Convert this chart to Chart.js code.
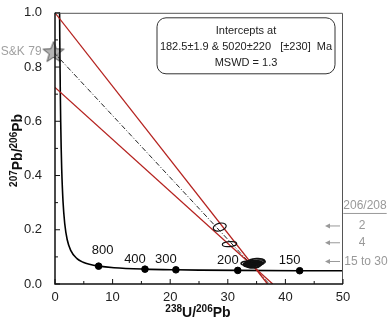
<!DOCTYPE html>
<html>
<head>
<meta charset="utf-8">
<script src="https://cdn.jsdelivr.net/npm/chart.js@4.4.0/dist/chart.umd.min.js"></script>
<style>
  html, body { margin: 0; padding: 0; background: #fff; }
  #wrap { width: 388px; height: 323px; }
</style>
</head>
<body>
<div id="wrap"><canvas id="twChart" width="388" height="323"></canvas></div>
<script>
// 콘코디아 곡선 (Tera-Wasserburg) - 그림에서 읽은 값
const concX = [0.795, 0.806, 0.829, 0.853, 0.918, 0.990, 1.071, 1.163, 1.387, 1.687, 2.111, 2.749, 3.817, 4.888, 5.960, 7.568, 10.25, 15.62, 20.99, 25.29, 31.73, 42.48, 50.3];
const concY = [1.009, 0.974, 0.907, 0.845, 0.710, 0.597, 0.503, 0.425, 0.306, 0.223, 0.164, 0.123, 0.0936, 0.0801, 0.0725, 0.0658, 0.0599, 0.0547, 0.0523, 0.0512, 0.0501, 0.0490, 0.0486];

// 콘코디아 위 연령 표시 (Ma)
const ageLabels = ["800", "400", "300", "200", "150"];
const ageX = [7.57, 15.62, 20.99, 31.73, 42.48];
const ageY = [0.0658, 0.0547, 0.0523, 0.0501, 0.0490];

// 디스코디아 선과 오차 범위 (양 끝점)
const discX = [-0.25, 37.2];
const discY = [0.855, 0];
const envUpX = [0, 36.9];
const envUpY = [1.0, 0];
const envLoX = [0, 37.8];
const envLoY = [0.725, 0];

// 보통납 (S&K 79)
const skLabel = "S&K 79";
const skX = [-0.25];
const skY = [0.855];

// 분석점 타원 (중심, 반축)
const ellX  = [28.6, 30.3];
const ellY  = [0.210, 0.147];
const ellRx = [1.15, 1.25];
const ellRy = [0.014, 0.009];
const ellRot = [-15, -5];
// 15 to 30 그룹 (겹친 타원)
const clX  = [33.2, 33.7, 34.2, 34.6, 35.1, 34.0, 34.5, 33.8, 35.3, 35.0];
const clY  = [0.077, 0.073, 0.079, 0.072, 0.076, 0.068, 0.066, 0.071, 0.080, 0.084];
const clRx = [0.9, 1.0, 1.1, 1.3, 1.1, 0.9, 1.1, 0.9, 1.2, 1.4];
const clRy = [0.007, 0.008, 0.008, 0.010, 0.007, 0.006, 0.007, 0.006, 0.008, 0.010];

// 오른쪽 206/208 표시
const ratioTitle = "206/208";
const ratioLabels = ["2", "4", "15 to 30"];
const ratioY = [0.214, 0.152, 0.083];

// 절편 박스
const boxLines = ["Intercepts at", "182.5\u00b11.9 & 5020\u00b1220   [\u00b1230]  Ma", "MSWD = 1.3"];

// 축 눈금
const xMajor = [0, 10, 20, 30, 40, 50];
const xMinor = [5, 15, 25, 35, 45];
const yMajor = [0, 0.2, 0.4, 0.6, 0.8, 1.0];
const yMinor = [0.1, 0.3, 0.5, 0.7, 0.9];

const FONT = "'Liberation Sans', Arial, sans-serif";
const toPts = (xs, ys) => xs.map((x, i) => ({ x: x, y: ys[i] }));

// 별 모양 포인트
function makeStar() {
  const c = document.createElement("canvas");
  c.width = 26; c.height = 26;
  const g = c.getContext("2d");
  g.beginPath();
  for (let i = 0; i < 10; i++) {
    const r = i % 2 === 0 ? 11 : 4.6;
    const a = -Math.PI / 2 + i * Math.PI / 5;
    const px = 13 + r * Math.cos(a), py = 13.5 + r * Math.sin(a);
    if (i === 0) g.moveTo(px, py); else g.lineTo(px, py);
  }
  g.closePath();
  g.fillStyle = "#b4b4b4";
  g.fill();
  g.strokeStyle = "#555";
  g.lineWidth = 1;
  g.stroke();
  return c;
}

// 위첨자 텍스트 그리기
function richText(ctx, parts, x, y) {
  let w = 0;
  parts.forEach(p => {
    ctx.font = p.sup ? "bold 10px " + FONT : "bold 14px " + FONT;
    p.w = ctx.measureText(p.t).width;
    w += p.w;
  });
  let cx = x - w / 2;
  ctx.textAlign = "left";
  ctx.textBaseline = "alphabetic";
  parts.forEach(p => {
    ctx.font = p.sup ? "bold 10px " + FONT : "bold 14px " + FONT;
    ctx.fillText(p.t, cx, p.sup ? y - 5 : y);
    cx += p.w;
  });
}

const decorPlugin = {
  id: "decor",
  afterDatasetsDraw(chart) {
    const ctx = chart.ctx;
    const xs = chart.scales.x, ys = chart.scales.y;
    const ca = chart.chartArea;

    function ellipse(x, y, rx, ry, rot, lw, fill) {
      const cx = xs.getPixelForValue(x), cy = ys.getPixelForValue(y);
      const rxp = Math.abs(xs.getPixelForValue(x + rx) - cx);
      const ryp = Math.abs(ys.getPixelForValue(y + ry) - cy);
      ctx.beginPath();
      ctx.ellipse(cx, cy, rxp, ryp, rot * Math.PI / 180, 0, Math.PI * 2);
      if (fill) { ctx.fillStyle = "#111"; ctx.fill(); }
      ctx.lineWidth = lw;
      ctx.strokeStyle = "#111";
      ctx.stroke();
    }
    ctx.save();
    ellX.forEach((x, i) => ellipse(x, ellY[i], ellRx[i], ellRy[i], ellRot[i], 1.2, false));
    clX.forEach((x, i) => ellipse(x, clY[i], clRx[i], clRy[i], -4, 1.6, i % 3 === 1));

    // 연령 라벨
    ctx.fillStyle = "#111";
    ctx.font = "13px " + FONT;
    ctx.textAlign = "center";
    ctx.textBaseline = "middle";
    ageLabels.forEach((t, i) => {
      const px = xs.getPixelForValue(ageX[i]), py = ys.getPixelForValue(ageY[i]);
      if (i === 0) ctx.fillText(t, px + 4, py - 16);
      else ctx.fillText(t, px - 10, py - 10);
    });

    // 틀
    ctx.strokeStyle = "#555";
    ctx.lineWidth = 1;
    ctx.beginPath();
    ctx.moveTo(ca.left, ca.top + 0.5);
    ctx.lineTo(ca.right - 0.5, ca.top + 0.5);
    ctx.lineTo(ca.right - 0.5, ca.bottom);
    ctx.stroke();
    ctx.strokeStyle = "#111";
    ctx.lineWidth = 1.5;
    ctx.beginPath();
    ctx.moveTo(ca.left, ca.top);
    ctx.lineTo(ca.left, ca.bottom);
    ctx.lineTo(ca.right, ca.bottom);
    ctx.stroke();

    // 안쪽 눈금
    ctx.lineWidth = 1;
    ctx.beginPath();
    xMajor.forEach(v => { const p = xs.getPixelForValue(v); ctx.moveTo(p, ca.bottom); ctx.lineTo(p, ca.bottom - 5); });
    xMinor.forEach(v => { const p = xs.getPixelForValue(v); ctx.moveTo(p, ca.bottom); ctx.lineTo(p, ca.bottom - 3); });
    yMajor.forEach(v => { const p = ys.getPixelForValue(v); ctx.moveTo(ca.left, p); ctx.lineTo(ca.left + 5, p); });
    yMinor.forEach(v => { const p = ys.getPixelForValue(v); ctx.moveTo(ca.left, p); ctx.lineTo(ca.left + 3, p); });
    ctx.stroke();

    // 절편 박스
    const bx = ca.left + 102, by = ca.top + 5, bw = 178, bh = 56;
    ctx.beginPath();
    ctx.roundRect(bx, by, bw, bh, 9);
    ctx.fillStyle = "#fff";
    ctx.fill();
    ctx.strokeStyle = "#333";
    ctx.lineWidth = 1;
    ctx.stroke();
    ctx.fillStyle = "#222";
    ctx.font = "11px " + FONT;
    ctx.textAlign = "center";
    boxLines.forEach((t, i) => ctx.fillText(t, bx + bw / 2, by + 13 + i * 16));

    // S&K 79
    ctx.fillStyle = "#a0a0a0";
    ctx.font = "12px " + FONT;
    ctx.textAlign = "right";
    ctx.fillText(skLabel, xs.getPixelForValue(skX[0]) - 12, ys.getPixelForValue(skY[0]));

    // 206/208 표시
    const tx = ca.right + 22;
    ctx.fillStyle = "#999";
    ctx.strokeStyle = "#999";
    ctx.font = "12px " + FONT;
    ctx.textAlign = "center";
    const hy = ys.getPixelForValue(ratioY[0]) - 20;
    ctx.fillText(ratioTitle, tx, hy);
    const hw = ctx.measureText(ratioTitle).width;
    ctx.beginPath();
    ctx.moveTo(tx - hw / 2, hy + 7.5);
    ctx.lineTo(tx + hw / 2, hy + 7.5);
    ctx.stroke();
    ratioLabels.forEach((t, i) => {
      const py = ys.getPixelForValue(ratioY[i]);
      ctx.fillText(t, t.length > 2 ? tx + 1 : tx - 3, py);
      ctx.beginPath();
      ctx.moveTo(ca.right - 3, py);
      ctx.lineTo(ca.right - 15, py);
      ctx.stroke();
      ctx.beginPath();
      ctx.moveTo(ca.right - 18, py);
      ctx.lineTo(ca.right - 13, py - 2.5);
      ctx.lineTo(ca.right - 13, py + 2.5);
      ctx.closePath();
      ctx.fill();
    });

    // 축 제목
    ctx.fillStyle = "#111";
    richText(ctx, [{ t: "238", sup: true }, { t: "U/" }, { t: "206", sup: true }, { t: "Pb" }], (ca.left + ca.right) / 2 - 1, 317);
    ctx.save();
    ctx.translate(22, (ca.top + ca.bottom) / 2 + 2);
    ctx.rotate(-Math.PI / 2);
    richText(ctx, [{ t: "207", sup: true }, { t: "Pb/" }, { t: "206", sup: true }, { t: "Pb" }], 0, 0);
    ctx.restore();
    ctx.restore();
  }
};

const ctx = document.getElementById("twChart").getContext("2d");
const twChart = new Chart(ctx, {
  type: "scatter",
  data: {
    datasets: [
      {
        label: "envelope upper",
        data: toPts(envUpX, envUpY),
        showLine: true,
        borderColor: "#b5221f",
        borderWidth: 1.3,
        pointRadius: 0
      },
      {
        label: "envelope lower",
        data: toPts(envLoX, envLoY),
        showLine: true,
        borderColor: "#b5221f",
        borderWidth: 1.3,
        pointRadius: 0
      },
      {
        label: "discordia",
        data: toPts(discX, discY),
        showLine: true,
        borderColor: "#222",
        borderWidth: 1,
        borderDash: [5, 2, 1, 2],
        pointRadius: 0
      },
      {
        label: "concordia",
        data: toPts(concX, concY),
        showLine: true,
        borderColor: "#000",
        borderWidth: 1.6,
        cubicInterpolationMode: "monotone",
        pointRadius: 0
      },
      {
        label: "ages",
        data: toPts(ageX, ageY),
        backgroundColor: "#000",
        borderColor: "#000",
        pointRadius: 3.3
      },
      {
        label: skLabel,
        data: toPts(skX, skY),
        pointStyle: makeStar(),
        clip: false
      }
    ]
  },
  options: {
    responsive: false,
    animation: false,
    layout: { padding: { top: 8, right: 45, left: 0, bottom: 0 } },
    plugins: {
      legend: { display: false },
      tooltip: { enabled: false }
    },
    scales: {
      x: {
        type: "linear",
        min: 0,
        max: 50,
        afterFit: s => { s.height = 39; },
        grid: { display: false },
        border: { display: false },
        ticks: {
          stepSize: 10,
          padding: -2,
          color: "#222",
          font: { family: FONT, size: 13 }
        }
      },
      y: {
        type: "linear",
        min: 0,
        max: 1,
        afterFit: s => { s.width = 55; },
        grid: { display: false },
        border: { display: false },
        ticks: {
          stepSize: 0.2,
          padding: 5,
          color: "#222",
          font: { family: FONT, size: 13 },
          callback: v => v.toFixed(1)
        }
      }
    }
  },
  plugins: [decorPlugin]
});
</script>
</body>
</html>
